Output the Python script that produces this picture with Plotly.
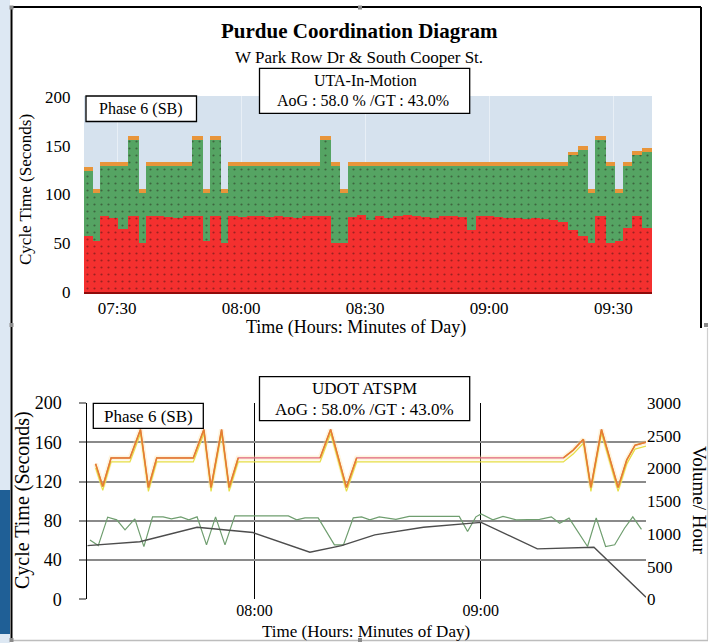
import plotly.graph_objects as go
import pandas as pd

DAY = "2024-01-01 "
W, H = 710, 643
FONT = "Liberation Serif"

# ---------------- Top chart (UTA-In-Motion PCD), one bar per cycle ----------------
top_start = "07:22:00"
cycle_len = [128, 106, 133, 133, 133, 160, 106,
             133, 133, 133, 133, 133, 160, 106, 160, 106,
             133, 133, 133, 133, 133, 133, 133, 133, 133, 133,
             160, 133, 106,
             133, 133, 133, 133, 133, 133, 133, 133, 133, 133, 133, 133,
             133, 133, 133, 133, 133, 133, 133, 133, 133, 133, 133, 133,
             144, 150, 106, 160, 133, 106, 133, 145, 148]
red_dur = [57, 52, 78, 76, 65, 78, 50,
           78, 78, 77, 76, 78, 78, 52, 78, 50,
           78, 77, 78, 78, 77, 78, 77, 76, 78, 78,
           78, 50, 50,
           77, 79, 74, 78, 76, 78, 79, 78, 77, 76, 78, 78,
           77, 64, 78, 78, 77, 76, 76, 75, 76, 75, 74, 72,
           64, 57, 50, 78, 50, 52, 66, 78, 66]
yellow_dur = [4, 4, 4, 4, 4, 4, 4,
              4, 4, 4, 4, 4, 4, 4, 4, 4,
              4, 4, 4, 4, 4, 4, 4, 4, 4, 4,
              4, 4, 4,
              4, 4, 4, 4, 4, 4, 4, 4, 4, 4, 4, 4,
              4, 4, 4, 4, 4, 4, 4, 4, 4, 4, 4, 4,
              4, 4, 4, 4, 4, 4, 4, 4, 4]
top_ticks = ["07:30", "08:00", "08:30", "09:00", "09:30"]
top_yticks = [0, 50, 100, 150, 200]

# ---------------- Bottom chart (UDOT ATSPM PCD) ----------------
bot_range = ["07:15:42", "09:43:48"]
red_t = ["07:17:54", "07:19:48", "07:22:00", "07:27:00", "07:29:48", "07:31:54", "07:34:06",
         "07:43:48", "07:46:36", "07:48:30", "07:51:18", "07:53:18", "07:55:42", "08:17:24",
         "08:20:12", "08:24:24", "08:27:06", "09:21:54", "09:24:30", "09:27:12", "09:29:12",
         "09:32:00", "09:36:24", "09:38:42", "09:40:54", "09:43:48"]
red_v = [138, 115, 144, 144, 173, 114, 144, 144, 173, 114, 173, 114, 144, 144,
         173, 114, 144, 144, 152, 163, 114, 173, 114, 142, 157, 160]
yel_v = [134, 111, 140, 140, 169, 110, 140, 140, 169, 110, 169, 110, 140, 140,
         169, 110, 140, 140, 148, 159, 110, 169, 110, 138, 153, 156]
flat_after = [12, 16]   # segments drawn only as thin red/yellow lines

green_t = ["07:16:24", "07:18:36", "07:21:06", "07:23:30", "07:25:42", "07:28:18", "07:30:42",
           "07:33:00", "07:35:48", "07:38:00", "07:40:30", "07:42:36", "07:44:48", "07:47:18",
           "07:49:42", "07:52:12", "07:54:48", "08:09:00", "08:11:12", "08:13:24", "08:16:54",
           "08:21:12", "08:23:36", "08:26:12", "08:28:24", "08:30:36", "08:33:06", "08:37:30",
           "08:41:00", "08:54:18", "08:56:30", "08:58:42", "09:00:06", "09:03:12", "09:05:54",
           "09:09:24", "09:15:36", "09:18:42", "09:20:54", "09:23:24", "09:28:18", "09:30:36",
           "09:33:06", "09:35:30", "09:38:06", "09:40:18", "09:42:36"]
green_v = [60.5, 54.7, 83.7, 81, 70.7, 82, 53.7, 84, 84, 82, 84, 81, 84, 55.5,
           84, 55.5, 85, 85, 81, 83, 83, 55.5, 55.5, 83, 84, 81, 84, 81.5,
           84.5, 84.5, 69, 84, 87, 81, 84.5, 81, 81.5, 84, 77.5, 82.7, 53.8, 83,
           53.8, 55.5, 72.4, 84, 71.3]

vol_t = ["07:15:42", "07:29:36", "07:44:48", "07:59:36", "08:14:42", "08:23:06", "08:31:54",
         "08:44:48", "09:00:06", "09:15:00", "09:30:00", "09:43:48"]
vol_v = [820, 880, 1100, 1020, 720, 820, 985, 1100, 1175, 770, 795, 30]

bot_xticks = ["08:00", "09:00"]
bot_yticks = [0, 40, 80, 120, 160, 200]
bot_y2ticks = [0, 500, 1000, 1500, 2000, 2500, 3000]

RED, GREEN, ORANGE = "#f4302f", "#55a463", "#e8953a"


def ts(s):
    return pd.Timestamp(DAY + s)


def px(x):
    return x / W


def py(y):
    return 1 - y / H


fig = go.Figure()

# ---- top bars
starts = []
cur = ts(top_start)
for L in cycle_len:
    starts.append(cur)
    cur = cur + pd.Timedelta(seconds=L)
top_end = cur
widths = [L * 1000 for L in cycle_len]
green_dur = [L - r - y for L, r, y in zip(cycle_len, red_dur, yellow_dur)]

for vals, col, pat in [(red_dur, RED, "."), (green_dur, GREEN, "."), (yellow_dur, ORANGE, "")]:
    fig.add_trace(go.Bar(
        x=starts, y=vals, width=widths, offset=0, xaxis="x", yaxis="y",
        marker=dict(color=col, line=dict(width=0),
                    pattern=dict(shape=pat, fgcolor="#1a0a0a", size=7, solidity=0.08,
                                 fillmode="overlay", fgopacity=0.4)),
        showlegend=False, hoverinfo="skip"))

# ---- bottom lines
rx = [ts(s) for s in red_t]
fig.add_trace(go.Scatter(x=rx, y=red_v, mode="lines", xaxis="x2", yaxis="y2",
                         line=dict(color="rgba(252,226,160,0.35)", width=5), showlegend=False))
fig.add_trace(go.Scatter(x=rx, y=yel_v, mode="lines", xaxis="x2", yaxis="y2",
                         line=dict(color="#e6de45", width=1.2), showlegend=False))
fig.add_trace(go.Scatter(x=rx, y=red_v, mode="lines", xaxis="x2", yaxis="y2",
                         line=dict(color="#e0657e", width=1.2), showlegend=False))
ox, oy = [], []
for i, (a, b) in enumerate(zip(rx, red_v)):
    ox.append(a)
    oy.append(b)
    if i in flat_after:
        ox.append(None)
        oy.append(None)
fig.add_trace(go.Scatter(x=ox, y=oy, mode="lines", xaxis="x2", yaxis="y2",
                         line=dict(color="#e5802e", width=1.6), showlegend=False))
fig.add_trace(go.Scatter(x=[ts(s) for s in green_t], y=green_v, mode="lines", xaxis="x2", yaxis="y2",
                         line=dict(color="#6f9e6f", width=1.2), showlegend=False))
fig.add_trace(go.Scatter(x=[ts(s) for s in vol_t], y=vol_v, mode="lines", xaxis="x2", yaxis="y3",
                         line=dict(color="#4d4d4d", width=1.4), showlegend=False))

tf = dict(family=FONT, size=17, color="black")

fig.update_layout(
    width=W, height=H, autosize=False,
    margin=dict(l=0, r=0, t=0, b=0, pad=0),
    paper_bgcolor="white", plot_bgcolor="rgba(0,0,0,0)",
    barmode="stack", bargap=0,
    font=dict(family=FONT, color="black"),
    xaxis=dict(domain=[px(84), px(652)], anchor="y", type="date", automargin=False,
               range=[starts[0], top_end],
               tickvals=[ts(s) for s in top_ticks], ticktext=top_ticks,
               tickfont=tf, ticks="", showgrid=True, gridcolor="rgba(255,255,255,0.45)",
               showline=True, linecolor="#8e0b0b", linewidth=2, zeroline=False),
    yaxis=dict(domain=[py(292), py(96)], anchor="x", range=[0, 201], automargin=False,
               tickvals=top_yticks, tickfont=tf, ticks="outside", ticklen=9,
               tickcolor="rgba(0,0,0,0)", showgrid=False, zeroline=False),
    xaxis2=dict(domain=[px(87.3), px(646)], anchor="y2", type="date", automargin=False,
                range=[ts(bot_range[0]), ts(bot_range[1])],
                tickvals=[ts(s) for s in bot_xticks], ticktext=bot_xticks,
                tickfont=dict(family=FONT, size=16, color="black"), ticks="",
                showgrid=True, gridcolor="black", gridwidth=1, showline=False, zeroline=False),
    yaxis2=dict(domain=[py(599.3), py(403)], anchor="x2", range=[0, 200], automargin=False,
                tickvals=bot_yticks, tickfont=dict(family=FONT, size=18, color="black"),
                ticks="outside", ticklen=7, tickwidth=2, tickcolor="#8a8a8a",
                ticklabelstandoff=14,
                showgrid=True, gridcolor="#8a8a8a", gridwidth=2,
                showline=True, linecolor="black", linewidth=1, zeroline=False),
    yaxis3=dict(overlaying="y2", anchor="x2", side="right", range=[0, 3000], automargin=False,
                tickvals=bot_y2ticks, tickfont=tf, ticks="", showgrid=False,
                zeroline=False, showline=False),
)

shapes = []
# top plot background
shapes.append(dict(type="rect", xref="x domain", yref="y domain", x0=0, x1=1, y0=0, y1=1,
                   fillcolor="#d6e2ee", line=dict(width=0), layer="below"))
# page strips
shapes.append(dict(type="rect", xref="paper", yref="paper", x0=0, x1=px(10), y0=0, y1=1,
                   fillcolor="#dde8f3", line=dict(width=0), layer="below"))
shapes.append(dict(type="rect", xref="paper", yref="paper", x0=0, x1=px(10), y0=py(634), y1=py(490),
                   fillcolor="#1f5f96", line=dict(width=0), layer="below"))
# frame
for (x0, y0, x1, y1, c, w) in [(11.5, 7, 11.5, 640, "black", 2), (11, 7, 701, 7, "black", 2),
                               (701, 7, 701, 328, "black", 2), (11, 640.5, 708, 640.5, "#bdbdbd", 1.5),
                               (707.5, 328, 707.5, 640, "#cfcfcf", 1.2)]:
    shapes.append(dict(type="line", xref="paper", yref="paper", x0=px(x0), y0=py(y0), x1=px(x1), y1=py(y1),
                       line=dict(color=c, width=w)))
for (hx, hy) in [(11.5, 7.5), (360, 7.5), (11.5, 325), (11.5, 640), (360, 640), (706, 325)]:
    shapes.append(dict(type="rect", xref="paper", yref="paper", x0=px(hx - 2), x1=px(hx + 2),
                       y0=py(hy + 2), y1=py(hy - 2), fillcolor="#8a8a8a", line=dict(width=0)))
# text boxes
for (x0, y0, x1, y1) in [(259.5, 68.3, 469.7, 113.3), (86, 96, 196.5, 121.5),
                         (259.5, 376.7, 469.7, 420.7), (93.3, 403.3, 203.3, 428.3)]:
    shapes.append(dict(type="rect", xref="paper", yref="paper", x0=px(x0), x1=px(x1),
                       y0=py(y1), y1=py(y0), fillcolor="white", line=dict(color="black", width=1.3)))
fig.update_layout(shapes=shapes)


def ann(text, x, y, size, bold=False, angle=0):
    return dict(text=("<b>%s</b>" % text) if bold else text, x=px(x), y=py(y),
                xref="paper", yref="paper", xanchor="center", yanchor="middle",
                showarrow=False, textangle=angle,
                font=dict(family=FONT, size=size, color="black"))


fig.update_layout(annotations=[
    ann("Purdue Coordination Diagram", 359, 31, 21, bold=True),
    ann("W Park Row Dr &amp; South Cooper St.", 358.5, 58, 17),
    ann("UTA-In-Motion", 365, 80, 16),
    ann("AoG : 58.0 % /GT : 43.0%", 363, 101, 16),
    ann("Phase 6 (SB)", 141, 108.5, 16),
    ann("Cycle Time (Seconds)", 26, 190, 17, angle=-90),
    ann("Time (Hours: Minutes of Day)", 355.5, 327, 18),
    ann("UDOT ATSPM", 364.5, 388.5, 17),
    ann("AoG : 58.0% /GT : 43.0%", 364.5, 409.5, 17),
    ann("Phase 6 (SB)", 148.3, 416, 17),
    ann("Cycle Time (Seconds)", 22, 500, 20, angle=-90),
    ann("Time (Hours: Minutes of Day)", 366, 631.5, 17),
    ann("Volume/ Hour", 700, 500, 19, angle=90),
])

fig.write_html("out.html", config={"displayModeBar": False},
               post_script="document.body.style.margin='0px';document.body.style.padding='0px';"
                           "document.documentElement.style.overflow='hidden';")
